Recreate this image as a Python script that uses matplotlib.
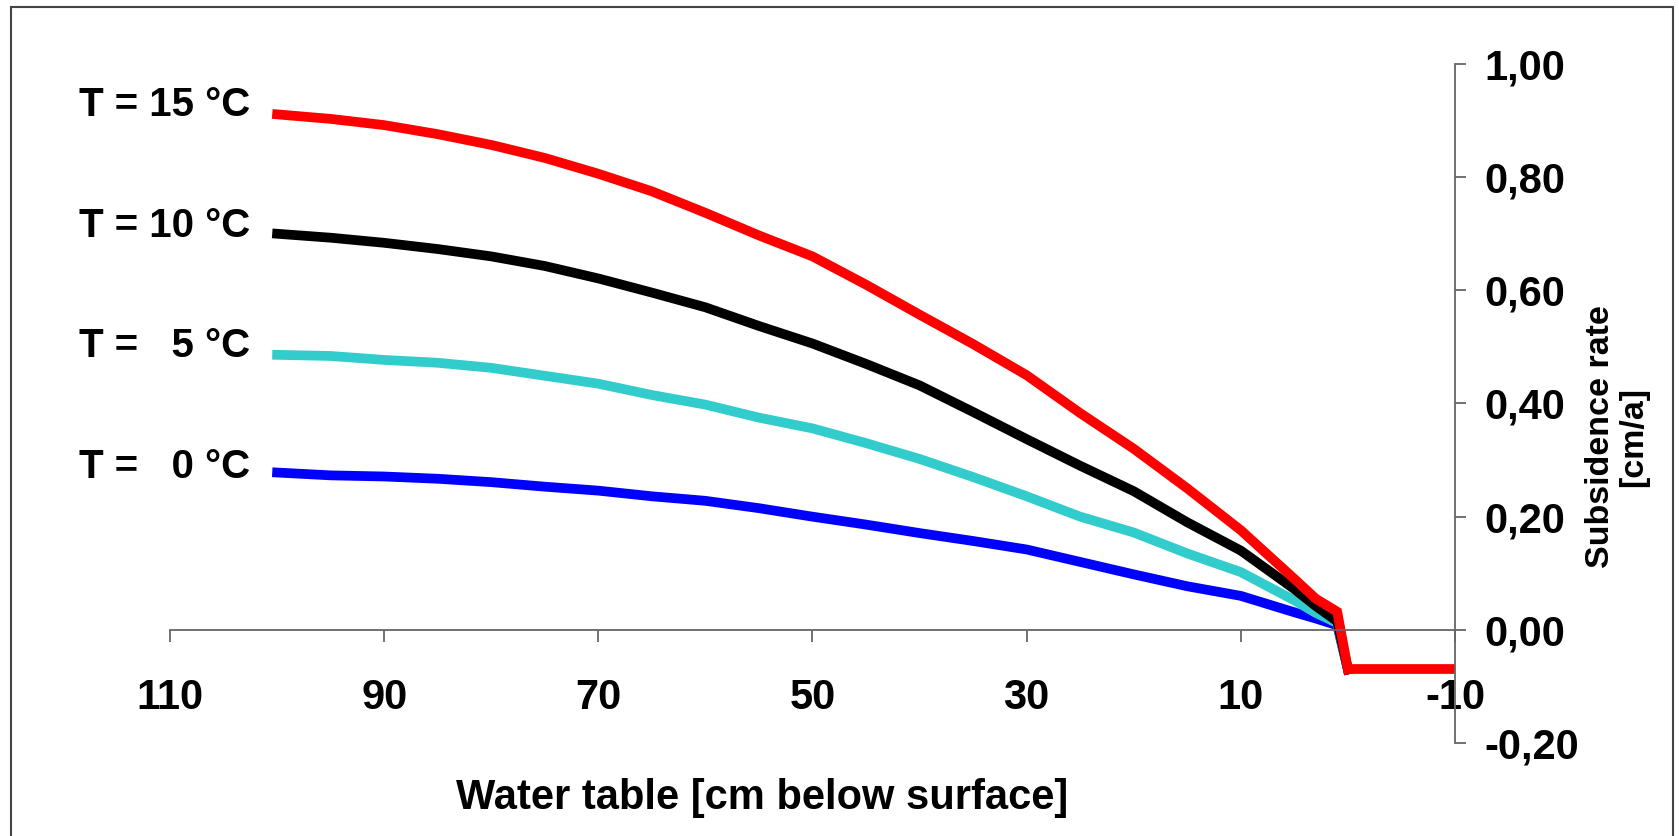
import numpy as np
import matplotlib
matplotlib.use("Agg")
import matplotlib.pyplot as plt
from matplotlib.ticker import FuncFormatter, FixedLocator
from matplotlib.patches import Rectangle

# water table depth [cm below surface], shared by all curves
depth = [100, 95, 90, 85, 80, 75, 70, 65, 60, 55, 50, 45, 40, 35, 30,
         25, 20, 15, 10, 5, 3, 1, 0]

# subsidence rate [cm/a] per temperature
rate_0 = [0.278, 0.273, 0.271, 0.267, 0.261, 0.253, 0.246, 0.236, 0.228, 0.215,
          0.200, 0.186, 0.171, 0.157, 0.142, 0.120, 0.098, 0.077, 0.060, 0.031,
          0.020, 0.008, -0.07]
rate_5 = [0.486, 0.484, 0.477, 0.472, 0.463, 0.449, 0.435, 0.415, 0.398, 0.375,
          0.356, 0.330, 0.302, 0.270, 0.236, 0.200, 0.172, 0.135, 0.102, 0.052,
          0.030, 0.012, -0.07]
rate_10 = [0.700, 0.693, 0.684, 0.673, 0.660, 0.643, 0.621, 0.596, 0.570, 0.537,
           0.506, 0.470, 0.432, 0.385, 0.337, 0.290, 0.245, 0.190, 0.140, 0.072,
           0.042, 0.015, -0.07]
rate_15 = [0.911, 0.903, 0.892, 0.876, 0.857, 0.834, 0.806, 0.775, 0.737, 0.697,
           0.660, 0.610, 0.557, 0.505, 0.450, 0.383, 0.320, 0.250, 0.176, 0.090,
           0.055, 0.032, -0.07]
# flooded part (water table above surface), only visible for the top curve
depth_flood = [0, -10]
rate_flood = [-0.07, -0.07]

labels = ["T = 15 °C", "T = 10 °C", "T =   5 °C", "T =   0 °C"]
xticks = [110, 90, 70, 50, 30, 10, -10]
yticks = [-0.2, 0.0, 0.2, 0.4, 0.6, 0.8, 1.0]

W, H = 1679, 836
fig = plt.figure(figsize=(W / 100, H / 100), dpi=100)
fig.patch.set_facecolor("white")

plt.rcParams["font.family"] = ["Liberation Sans", "DejaVu Sans"]
plt.rcParams["font.weight"] = "bold"
plt.rcParams["axes.unicode_minus"] = False

ax = fig.add_axes([170 / W, 1 - 743 / H, (1455 - 170) / W, (743 - 64) / H])
ax.set_xlim(110, -10)
ax.set_ylim(-0.2, 1.0)

lw = 7.0
ax.plot(depth, rate_0, color="#0000FF", lw=lw, solid_joinstyle="miter")
ax.plot(depth, rate_5, color="#33CCCC", lw=lw, solid_joinstyle="miter")
ax.plot(depth, rate_10, color="black", lw=lw, solid_joinstyle="miter")
ax.plot(depth, rate_15, color="#FF0000", lw=lw, solid_joinstyle="miter")
ax.plot(depth_flood, rate_flood, color="#FF0000", lw=lw, solid_capstyle="butt")

# axes: x-axis through zero, y-axis on the right
for s in ["left", "top"]:
    ax.spines[s].set_visible(False)
ax.spines["bottom"].set_position(("data", 0))
for s in ["bottom", "right"]:
    ax.spines[s].set_color("#666666")
    ax.spines[s].set_linewidth(1.3)
ax.yaxis.tick_right()
ax.xaxis.set_major_locator(FixedLocator(xticks))
ax.yaxis.set_major_locator(FixedLocator(yticks))
ax.yaxis.set_major_formatter(FuncFormatter(lambda v, p: f"{v:.2f}".replace(".", ",")))
ax.tick_params(axis="x", direction="out", length=8.5, width=1.3, color="#666666",
               pad=26, labelsize=30)
ax.tick_params(axis="y", direction="out", length=8, width=1.3, color="#666666",
               pad=13, labelsize=30, right=True, left=False)
for t in ax.get_xticklabels() + ax.get_yticklabels():
    t.set_fontweight("bold")

# temperature labels beside the curve starts
for lab, yc in zip(labels, [105, 226, 346, 467]):
    fig.text(79 / W, 1 - yc / H, lab, fontsize=29, fontweight="bold",
             ha="left", va="center")

fig.text(762 / W, 1 - 798 / H, "Water table [cm below surface]", fontsize=30,
         fontweight="bold", ha="center", va="center")
fig.text(1617 / W, 1 - 437 / H, "Subsidence rate\n[cm/a]", fontsize=24.5,
         fontweight="bold", ha="center", va="center", rotation=90,
         linespacing=1.1)

# outer chart border
fig.patches.append(Rectangle((11 / W, -0.05), (1673 - 11) / W, 1.05 - 7 / H,
                             transform=fig.transFigure, fill=False,
                             edgecolor="#444444", linewidth=1.5))

fig.savefig("out.png", dpi=100)
